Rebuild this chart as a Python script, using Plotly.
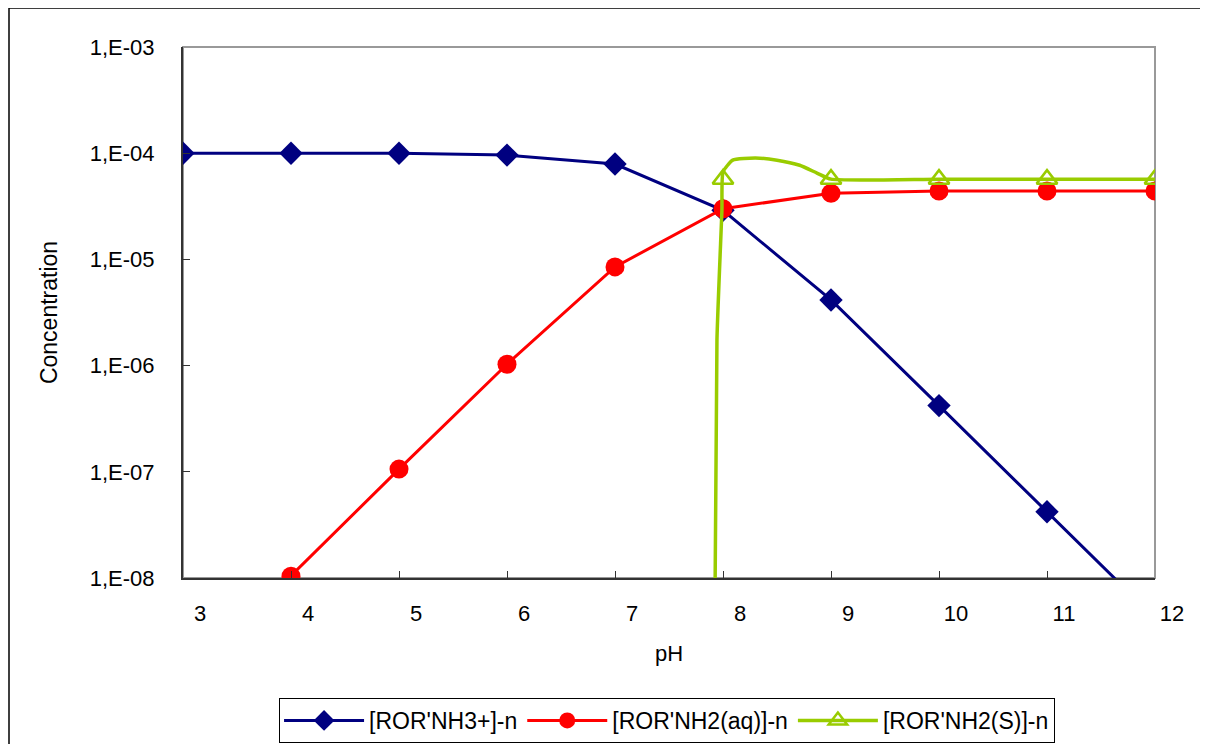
import plotly.graph_objects as go

# Data
ph = [3, 4, 5, 6, 7, 8, 9, 10, 11, 12]
nh3_plus = [1.0e-4, 1.0e-4, 1.0e-4, 9.6e-5, 7.9e-5, 2.9e-5, 4.15e-6, 4.2e-7, 4.2e-8, 4.2e-9]
nh2_aq = [1.04e-9, 1.04e-8, 1.06e-7, 1.03e-6, 8.5e-6, 3.0e-5, 4.2e-5, 4.4e-5, 4.4e-5, 4.4e-5]
ph_solid = [8, 9, 10, 11, 12]
nh2_s = [5.7e-5, 5.7e-5, 5.7e-5, 5.7e-5, 5.7e-5]
# smoothed curve of the solid series as drawn
ph_solid_curve = [7.92, 7.944, 7.99, 8.0, 8.09, 8.30, 8.50, 8.71, 8.87, 9.0, 10, 11, 12]
nh2_s_curve = [1e-9, 1.74e-6, 2.9e-5, 6.65e-5, 8.6e-5, 9.0e-5, 8.6e-5, 7.7e-5, 6.5e-5, 5.7e-5, 5.7e-5, 5.7e-5, 5.7e-5]

y_ticks = [1e-8, 1e-7, 1e-6, 1e-5, 1e-4, 1e-3]
y_ticktext = ["1,E-08", "1,E-07", "1,E-06", "1,E-05", "1,E-04", "1,E-03"]

BLUE = "#000080"
RED = "#FF0000"
GREEN = "#99CC00"
FONT = "Liberation Sans, Arial, sans-serif"

fig = go.Figure()
fig.add_trace(go.Scatter(x=ph, y=nh3_plus, mode="lines+markers", name="[ROR'NH3+]-n",
                         line=dict(color=BLUE, width=3),
                         marker=dict(symbol="diamond", size=18, color=BLUE)))
fig.add_trace(go.Scatter(x=ph, y=nh2_aq, mode="lines+markers", name="[ROR'NH2(aq)]-n",
                         line=dict(color=RED, width=3),
                         marker=dict(symbol="circle", size=19, color=RED)))
fig.add_trace(go.Scatter(x=ph_solid_curve, y=nh2_s_curve, mode="lines", showlegend=False,
                         legendgroup="s",
                         line=dict(color=GREEN, width=3.5, shape="spline", smoothing=0.5),
                         hoverinfo="skip"))
fig.add_trace(go.Scatter(x=ph_solid, y=nh2_s, mode="markers", showlegend=False,
                         legendgroup="s",
                         marker=dict(symbol="triangle-up-open", size=18, color=GREEN,
                                     line=dict(color=GREEN, width=2.5))))
# legend-only entry for the solid series (line + triangle)
fig.add_trace(go.Scatter(x=[None], y=[None], mode="lines+markers", name="[ROR'NH2(S)]-n",
                         legendgroup="s",
                         line=dict(color=GREEN, width=3.5),
                         marker=dict(symbol="triangle-up-open", size=16, color=GREEN,
                                     line=dict(color=GREEN, width=2.5))))

fig.update_layout(
    width=1200, height=736,
    margin=dict(l=175, r=53, t=39, b=166),
    paper_bgcolor="white", plot_bgcolor="white",
    font=dict(family=FONT, size=22, color="black"),
    showlegend=True,
    legend=dict(orientation="h", x=0.498, xanchor="center",
                yref="container", y=(736 - 690) / 736, yanchor="top",
                bordercolor="black", borderwidth=1, font=dict(size=23),
                itemwidth=80, tracegroupgap=0),
    xaxis=dict(range=[3, 12], tickvals=ph, ticktext=[str(v) for v in ph],
               ticks="inside", ticklen=7, tickcolor="#333", showgrid=False,
               zeroline=False, showline=True, linecolor="#333", linewidth=2,
               ticklabelshift=17, ticklabelstandoff=15,
               title=dict(text="pH", standoff=20, font=dict(size=22))),
    yaxis=dict(type="log", range=[-8, -3], tickvals=y_ticks, ticktext=y_ticktext,
               ticks="inside", ticklen=7, tickcolor="#333", showgrid=False,
               zeroline=False, showline=True, linecolor="#333", linewidth=2,
               ticklabelstandoff=22,
               title=dict(text="Concentration", standoff=26, font=dict(size=23))),
    shapes=[
        dict(type="rect", xref="paper", yref="paper", x0=0, x1=1, y0=0, y1=1,
             line=dict(color="#999", width=2), layer="below"),
        dict(type="rect", xref="paper", yref="paper",
             x0=(1 - 175) / 972, x1=(1196 - 175) / 972,
             y0=(570 - 760) / 531, y1=(570 - 0) / 531,
             line=dict(color="black", width=1.5), layer="below"),
    ],
)

fig.write_html("out.html")
